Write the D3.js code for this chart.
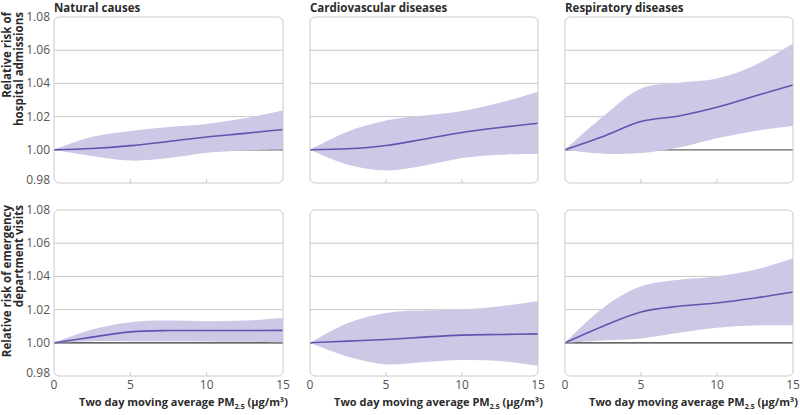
<!DOCTYPE html>
<html><head><meta charset="utf-8">
<script src="https://cdn.jsdelivr.net/npm/d3@7"></script>
<style>body{margin:0;background:#fff}svg{display:block}text{font-family:"Open Sans",sans-serif;fill:#2b2b2b}</style>
</head><body><svg id="c" width="800" height="415"></svg>
<script>
const pm = [0, 2.5, 5, 7.5, 10, 12.5, 15];
const outcomes = ["Natural causes", "Cardiovascular diseases", "Respiratory diseases"];
const rowTitles = [["Relative risk of", "hospital admissions"], ["Relative risk of emergency", "department visits"]];
const yTicks = [0.98, 1.00, 1.02, 1.04, 1.06, 1.08];
const xTicks = [0, 5, 10, 15];

// Hospital admissions
const hospNatFit = [1.000, 1.0008, 1.0025, 1.005, 1.0077, 1.0099, 1.0122];
const hospNatLo  = [1.000, 0.9962, 0.9935, 0.9950, 0.9982, 0.9996, 1.0003];
const hospNatHi  = [1.000, 1.0078, 1.0114, 1.0138, 1.0156, 1.0190, 1.0236];
const hospCvdFit = [1.000, 1.0006, 1.0026, 1.0064, 1.0104, 1.0134, 1.0160];
const hospCvdLo  = [1.000, 0.9910, 0.9876, 0.9904, 0.9950, 0.9970, 0.9974];
const hospCvdHi  = [1.000, 1.0110, 1.0176, 1.0206, 1.0234, 1.0284, 1.0350];
const hospRespFit = [1.000, 1.0080, 1.0170, 1.0204, 1.0256, 1.0324, 1.0390];
const hospRespLo  = [1.000, 0.9976, 0.9980, 1.0014, 1.0070, 1.0114, 1.0144];
const hospRespHi  = [1.000, 1.0200, 1.0370, 1.0404, 1.0430, 1.0510, 1.0640];
// Emergency department visits
const edNatFit = [1.000, 1.0034, 1.0066, 1.0074, 1.0074, 1.0074, 1.0075];
const edNatLo  = [1.000, 1.0010, 1.0010, 1.0009, 1.0008, 1.0006, 1.0004];
const edNatHi  = [1.000, 1.0080, 1.0124, 1.0134, 1.0130, 1.0134, 1.0150];
const edCvdFit = [1.000, 1.0010, 1.0020, 1.0034, 1.0046, 1.0050, 1.0054];
const edCvdLo  = [1.000, 0.9916, 0.9870, 0.9884, 0.9896, 0.9890, 0.9860];
const edCvdHi  = [1.000, 1.0120, 1.0180, 1.0194, 1.0200, 1.0220, 1.0250];
const edRespFit = [1.000, 1.0100, 1.0186, 1.0220, 1.0240, 1.0270, 1.0306];
const edRespLo  = [1.000, 1.0014, 1.0026, 1.0060, 1.0090, 1.0104, 1.0106];
const edRespHi  = [1.000, 1.0210, 1.0340, 1.0380, 1.0400, 1.0440, 1.0510];

const panels = [
  [[hospNatFit, hospNatLo, hospNatHi], [hospCvdFit, hospCvdLo, hospCvdHi], [hospRespFit, hospRespLo, hospRespHi]],
  [[edNatFit, edNatLo, edNatHi], [edCvdFit, edCvdLo, edCvdHi], [edRespFit, edRespLo, edRespHi]]
];

const svg = d3.select("#c");
const colX = [[54, 283], [310, 538], [565, 793]];
const rowY = [[17, 183], [210, 376]];
const bandCol = "#cdc8e6", lineCol = "#6552b0", gridCol = "#c9c9c9";
const curve = d3.curveCatmullRom.alpha(0.5);

panels.forEach((row, r) => {
  const y = d3.scaleLinear().domain([0.98, 1.08]).range([rowY[r][1], rowY[r][0]]);
  // row title
  const tg = svg.append("g").attr("transform", `translate(0,${rowY[r][0] - 5}) rotate(-90)`);
  rowTitles[r].forEach((t, i) => {
    tg.append("text").attr("x", 0).attr("y", 11 + i * 11.5).attr("text-anchor", "end")
      .style("font-size", "11.5px").style("font-weight", "700").text(t);
  });
  row.forEach((s, c) => {
    const x = d3.scaleLinear().domain([0, 15]).range(colX[c]);
    const g = svg.append("g");
    const [x0, x1] = colX[c], [y0, y1] = [rowY[r][0], rowY[r][1]];
    // gridlines
    g.selectAll(".grid").data(yTicks.filter(v => v > 0.99 && v < 1.07 && Math.abs(v - 1) > 1e-9)).join("line")
      .attr("x1", x0).attr("x2", x1).attr("y1", d => y(d)).attr("y2", d => y(d))
      .attr("stroke", gridCol).attr("stroke-width", 1);
    // baseline
    g.append("line").attr("x1", x0).attr("x2", x1).attr("y1", y(1)).attr("y2", y(1))
      .attr("stroke", r === 0 ? "#666" : "#333").attr("stroke-width", 1.2);
    const idx = d3.range(pm.length);
    const area = d3.area().x(i => x(pm[i])).y0(i => y(s[1][i])).y1(i => y(s[2][i])).curve(curve);
    g.append("path").attr("d", area(idx)).attr("fill", bandCol);
    const line = d3.line().x(i => x(pm[i])).y(i => y(s[0][i])).curve(curve);
    g.append("path").attr("d", line(idx)).attr("fill", "none").attr("stroke", lineCol).attr("stroke-width", 1.6);
    // frame
    g.append("rect").attr("x", x0).attr("y", y0).attr("width", x1 - x0).attr("height", y1 - y0)
      .attr("rx", 5).attr("fill", "none").attr("stroke", gridCol).attr("stroke-width", 1);
    // x ticks
    g.selectAll(".xt").data([5, 10]).join("line")
      .attr("x1", d => x(d)).attr("x2", d => x(d)).attr("y1", y1).attr("y2", y1 - 4)
      .attr("stroke", gridCol);
    // panel title
    if (r === 0) {
      g.append("text").attr("x", x0).attr("y", 12).style("font-size", "11.5px").style("font-weight", "700").text(outcomes[c]);
    }
    // y tick labels
    if (c === 0) {
      g.selectAll(".yl").data(yTicks).join("text")
        .attr("x", x0 - 4).attr("y", d => y(d) + (d === 0.98 ? 1 : 4)).attr("text-anchor", "end")
        .style("font-size", "12px").style("fill", "#555").text(d => d.toFixed(2));
    }
    if (r === 1) {
      g.selectAll(".xl").data(xTicks).join("text")
        .attr("x", d => x(d)).attr("y", y1 + 13).attr("text-anchor", "middle")
        .style("font-size", "12px").style("fill", "#555").text(d => d);
      const t = g.append("text").attr("x", x1 + 5).attr("y", 406).attr("text-anchor", "end")
        .style("font-size", "11px").style("font-weight", "700");
      t.append("tspan").text("Two day moving average PM");
      t.append("tspan").attr("dy", 3).style("font-size", "7px").text("2.5");
      t.append("tspan").attr("dy", -3).text(" (µg/m³)");
    }
  });
});
</script></body></html>
